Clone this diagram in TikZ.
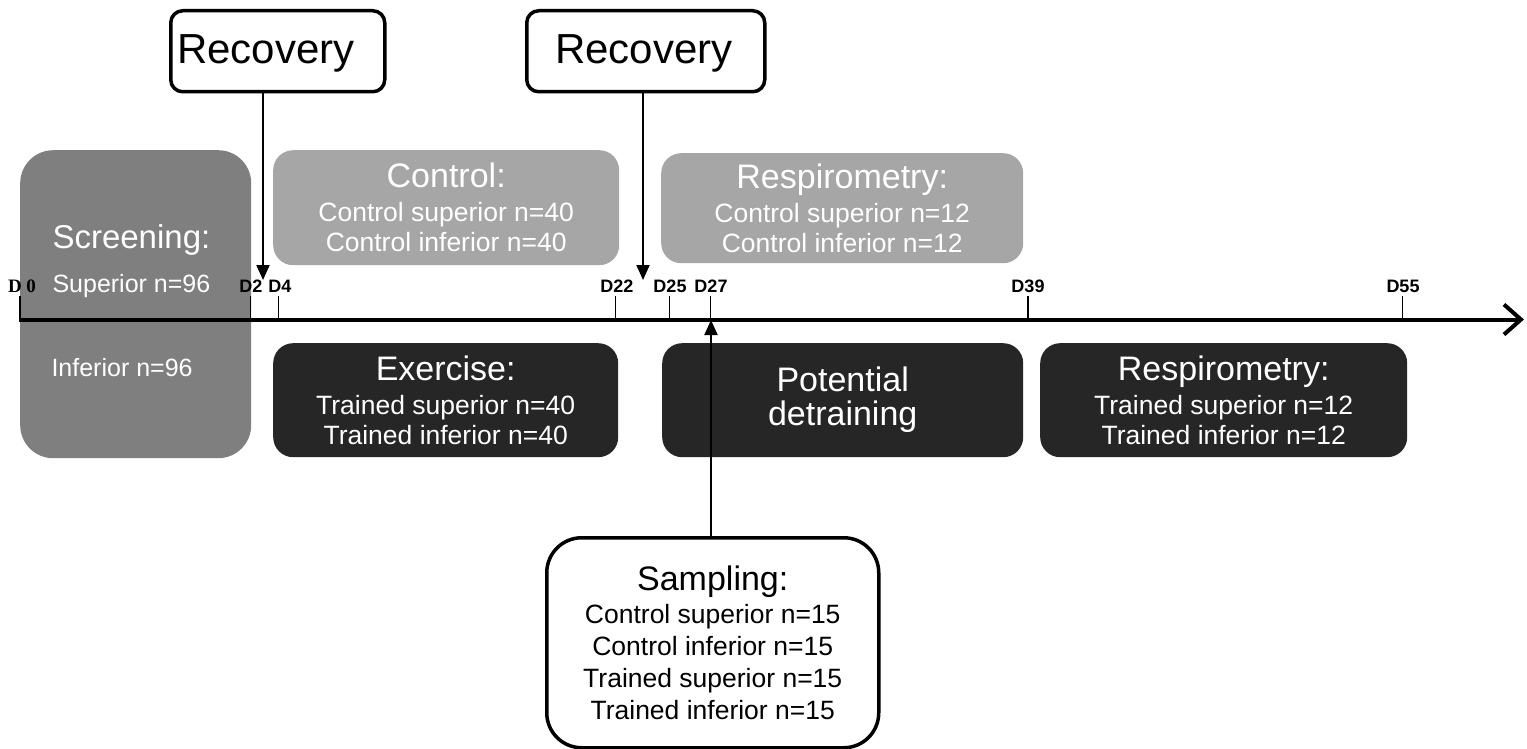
\documentclass[tikz,border=0pt]{standalone}
\usepackage{fontspec}
\setmainfont{Liberation Sans}
\newfontfamily\tnr{Liberation Serif}
\usetikzlibrary{arrows.meta}
\definecolor{midgray}{HTML}{7F7F7F}
\definecolor{lightgraybox}{HTML}{A6A6A6}
\definecolor{darkbox}{HTML}{262626}
\tikzset{
  phase/.style={rounded corners=20pt, anchor=north west, inner sep=0pt, text=white,
    align=center, font=\fontsize{26.5}{30}\selectfont},
  lightphase/.style={phase, fill=lightgraybox},
  darkphase/.style={phase, fill=darkbox},
  whitebox/.style={draw=black, line width=3.5pt, fill=white, anchor=north west, inner sep=0pt, align=center},
  rectext/.style={anchor=base, font=\fontsize{42}{42}\selectfont},
  dlabel/.style={anchor=base, font=\bfseries\fontsize{18}{18}\selectfont},
  tickline/.style={line width=1.3pt},
  downarrow/.style={line width=2pt, -{Triangle[length=15pt,width=13pt]}},
  scrtext/.style={anchor=base west, text=white}
}
\newcommand{\hd}[1]{{\fontsize{34}{36}\selectfont #1}}
\begin{document}
\begin{tikzpicture}[x=1pt,y=-1pt]
\useasboundingbox (0,0) rectangle (1527,749);
% screening
\node[phase, fill=midgray, rounded corners=33pt, minimum width=231pt, minimum height=308pt] (scr) at (20,150) {};
\node[scrtext, font=\fontsize{33}{36}\selectfont] (scrh) at (49,248) {Screening:};
\node[scrtext, font=\fontsize{25}{30}\selectfont] (scrs) at (49,292) {Superior n=96};
\node[scrtext, font=\fontsize{25}{30}\selectfont] (scri) at (48,376) {Inferior n=96};
% top phases
\node[lightphase, minimum width=346pt, minimum height=115pt] (ctrl) at (273,150)
  {\hd{Control:}\\[4pt]Control superior n=40\\Control inferior n=40};
\node[lightphase, minimum width=362pt, minimum height=110pt] (resp1) at (661,153)
  {\hd{Respirometry:}\\[4pt]Control superior n=12\\Control inferior n=12};
% bottom phases
\node[darkphase, minimum width=345pt, minimum height=114pt] (exer) at (273,343)
  {\hd{Exercise:}\\[4pt]Trained superior n=40\\Trained inferior n=40};
\node[darkphase, minimum width=361pt, minimum height=114pt, font=\fontsize{34}{34}\selectfont] (detr) at (662,343)
  {Potential\\detraining};
\node[darkphase, minimum width=367pt, minimum height=114pt] (resp2) at (1040,343)
  {\hd{Respirometry:}\\[4pt]Trained superior n=12\\Trained inferior n=12};
% timeline
\coordinate (t0) at (19,319.5);
\coordinate (tend) at (1524,319.5);
\draw[line width=4pt, -{Straight Barb[length=17pt,width=30pt,line width=4pt]}] (t0) -- (tend);
\foreach \x in {20, 250.5, 278.5, 615.5, 669.5, 710.5, 1028, 1402.5}{
  \draw[tickline] (\x,296) -- (\x,318);
}
\node[dlabel, font=\tnr\bfseries\fontsize{19}{19}\selectfont] (d0) at (22,292) {D 0};
\node[dlabel] (d2) at (251,292) {D2};
\node[dlabel] (d4) at (280,292) {D4};
\node[dlabel] (d22) at (617,292) {D22};
\node[dlabel] (d25) at (670,292) {D25};
\node[dlabel] (d27) at (711,292) {D27};
\node[dlabel] (d39) at (1028,292) {D39};
\node[dlabel] (d55) at (1403,292) {D55};
% recovery boxes
\node[whitebox, rounded corners=12pt, minimum width=214pt, minimum height=81pt] (rec1) at (169,9) {};
\node[rectext] (rec1t) at (266,64) {Recovery};
\node[whitebox, rounded corners=12pt, minimum width=238pt, minimum height=81pt] (rec2) at (525,9) {};
\node[rectext] (rec2t) at (644,64) {Recovery};
\coordinate (r1end) at (263,280);
\coordinate (r2end) at (643,280);
\draw[downarrow] (r1end |- rec1.south) -- (r1end);
\draw[downarrow] (r2end |- rec2.south) -- (r2end);
% sampling
\node[whitebox, rounded corners=35pt, minimum width=332pt, minimum height=210pt, font=\fontsize{26.5}{32}\selectfont] (samp) at (545,536)
  {\hd{Sampling:}\\[1pt]Control superior n=15\\Control inferior n=15\\Trained superior n=15\\Trained inferior n=15};
\coordinate (send) at (711,320);
\draw[downarrow] (send |- samp.north) -- (send);
\end{tikzpicture}
\end{document}
